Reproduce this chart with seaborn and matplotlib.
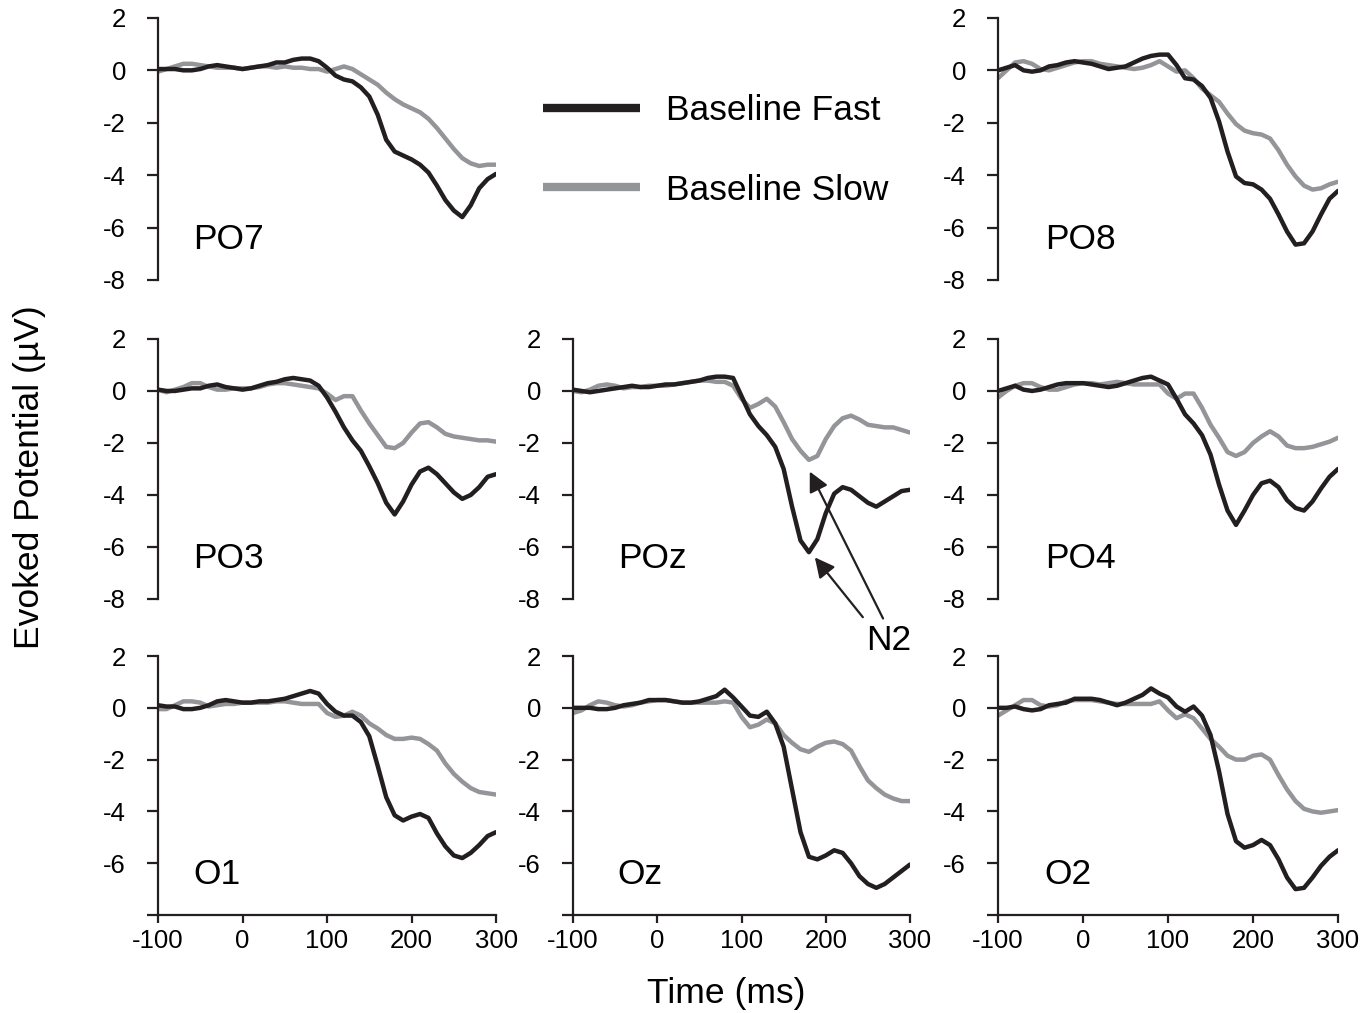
import numpy as np
import pandas as pd
import matplotlib
matplotlib.use("Agg")
import matplotlib.pyplot as plt
from matplotlib.lines import Line2D
import seaborn as sns

# Estilo general
sns.set_style("ticks")
plt.rcParams['font.family'] = ['Liberation Sans', 'DejaVu Sans']
plt.rcParams['axes.unicode_minus'] = False
plt.rcParams['text.color'] = 'black'
plt.rcParams['xtick.labelcolor'] = 'black'
plt.rcParams['ytick.labelcolor'] = 'black'

# Eje temporal (ms), una muestra cada 10 ms
time_ms = list(range(-100, 301, 10))

# Potenciales evocados (µV), por electrodo
po7_fast = [0.05, 0.05, 0.05, 0.0, 0.0, 0.05, 0.15, 0.2, 0.15, 0.1,
            0.05, 0.1, 0.15, 0.2, 0.3, 0.3, 0.4, 0.45, 0.45, 0.35,
            0.1, -0.2, -0.35, -0.42, -0.65, -1.0, -1.7, -2.65, -3.1, -3.25,
            -3.4, -3.6, -3.9, -4.4, -4.95, -5.35, -5.6, -5.15, -4.5, -4.15,
            -3.95]
po7_slow = [-0.05, 0.05, 0.15, 0.25, 0.25, 0.2, 0.15, 0.1, 0.1, 0.1,
            0.05, 0.1, 0.15, 0.15, 0.1, 0.15, 0.1, 0.1, 0.05, 0.05,
            -0.05, 0.05, 0.15, 0.05, -0.15, -0.35, -0.55, -0.85, -1.1, -1.3,
            -1.45, -1.6, -1.85, -2.2, -2.6, -3.0, -3.35, -3.55, -3.65, -3.6,
            -3.6]

po8_fast = [0.0, 0.1, 0.2, 0.0, -0.05, 0.0, 0.15, 0.2, 0.3, 0.35,
            0.3, 0.25, 0.15, 0.05, 0.1, 0.15, 0.3, 0.45, 0.55, 0.6,
            0.6, 0.2, -0.3, -0.35, -0.6, -1.05, -1.95, -3.1, -4.05, -4.3,
            -4.35, -4.55, -4.9, -5.5, -6.15, -6.65, -6.6, -6.15, -5.5, -4.9,
            -4.6]
po8_slow = [-0.3, 0.0, 0.3, 0.35, 0.25, 0.05, 0.0, 0.1, 0.2, 0.3,
            0.35, 0.35, 0.25, 0.2, 0.15, 0.1, 0.05, 0.1, 0.2, 0.35,
            0.15, -0.05, 0.0, -0.3, -0.7, -0.95, -1.2, -1.65, -2.05, -2.3,
            -2.4, -2.45, -2.6, -3.05, -3.6, -4.05, -4.4, -4.55, -4.5, -4.35,
            -4.25]

po3_fast = [0.05, 0.0, 0.0, 0.05, 0.1, 0.1, 0.2, 0.25, 0.15, 0.1,
            0.05, 0.1, 0.2, 0.3, 0.35, 0.45, 0.5, 0.45, 0.4, 0.2,
            -0.25, -0.8, -1.4, -1.9, -2.3, -2.9, -3.55, -4.3, -4.75, -4.25,
            -3.6, -3.1, -2.95, -3.2, -3.55, -3.9, -4.15, -4.0, -3.7, -3.3,
            -3.2]
po3_slow = [0.05, -0.05, 0.05, 0.15, 0.3, 0.3, 0.15, 0.05, 0.05, 0.1,
            0.1, 0.1, 0.15, 0.25, 0.3, 0.3, 0.25, 0.2, 0.15, 0.1,
            -0.1, -0.35, -0.2, -0.2, -0.75, -1.25, -1.7, -2.15, -2.2, -2.0,
            -1.6, -1.25, -1.2, -1.4, -1.65, -1.75, -1.8, -1.85, -1.9, -1.9,
            -1.95]

poz_fast = [0.05, 0.0, -0.05, 0.0, 0.05, 0.1, 0.15, 0.2, 0.15, 0.15,
            0.2, 0.25, 0.25, 0.3, 0.35, 0.4, 0.5, 0.55, 0.55, 0.5,
            -0.2, -0.9, -1.35, -1.7, -2.15, -3.0, -4.45, -5.75, -6.2, -5.7,
            -4.7, -3.95, -3.7, -3.8, -4.05, -4.3, -4.45, -4.25, -4.05, -3.85,
            -3.8]
poz_slow = [0.0, -0.05, 0.05, 0.2, 0.25, 0.2, 0.1, 0.15, 0.15, 0.2,
            0.2, 0.2, 0.25, 0.3, 0.35, 0.4, 0.4, 0.35, 0.35, 0.2,
            -0.3, -0.65, -0.5, -0.3, -0.6, -1.2, -1.85, -2.3, -2.65, -2.5,
            -1.85, -1.35, -1.05, -0.95, -1.1, -1.3, -1.35, -1.4, -1.4, -1.5,
            -1.6]

po4_fast = [0.0, 0.1, 0.2, 0.05, 0.0, 0.05, 0.15, 0.25, 0.3, 0.3,
            0.3, 0.25, 0.2, 0.15, 0.2, 0.3, 0.4, 0.5, 0.55, 0.4,
            0.25, -0.3, -0.9, -1.25, -1.7, -2.45, -3.6, -4.6, -5.15, -4.6,
            -4.0, -3.55, -3.45, -3.7, -4.2, -4.5, -4.6, -4.25, -3.75, -3.3,
            -3.0]
po4_slow = [-0.25, 0.0, 0.2, 0.3, 0.3, 0.15, 0.05, 0.05, 0.15, 0.25,
            0.3, 0.3, 0.25, 0.3, 0.35, 0.3, 0.25, 0.25, 0.25, 0.25,
            -0.1, -0.3, -0.1, -0.1, -0.65, -1.3, -1.8, -2.35, -2.5, -2.35,
            -2.0, -1.75, -1.55, -1.75, -2.1, -2.2, -2.2, -2.15, -2.05, -1.95,
            -1.8]

o1_fast = [0.1, 0.05, 0.05, -0.05, -0.05, 0.0, 0.1, 0.25, 0.3, 0.25,
           0.2, 0.2, 0.25, 0.25, 0.3, 0.35, 0.45, 0.55, 0.65, 0.55,
           0.15, -0.15, -0.3, -0.3, -0.55, -1.1, -2.25, -3.45, -4.15, -4.35,
           -4.2, -4.1, -4.25, -4.85, -5.35, -5.7, -5.8, -5.6, -5.3, -4.95,
           -4.8]
o1_slow = [-0.05, -0.05, 0.1, 0.25, 0.25, 0.2, 0.05, 0.1, 0.15, 0.15,
           0.2, 0.2, 0.2, 0.2, 0.25, 0.25, 0.2, 0.15, 0.15, 0.15,
           -0.2, -0.35, -0.3, -0.15, -0.3, -0.6, -0.8, -1.05, -1.2, -1.2,
           -1.15, -1.2, -1.4, -1.65, -2.15, -2.55, -2.85, -3.1, -3.25, -3.3,
           -3.35]

oz_fast = [0.0, 0.0, 0.0, -0.05, -0.05, 0.0, 0.1, 0.15, 0.2, 0.3,
           0.3, 0.3, 0.25, 0.2, 0.2, 0.25, 0.35, 0.45, 0.7, 0.4,
           0.05, -0.3, -0.35, -0.15, -0.6, -1.5, -3.15, -4.8, -5.75, -5.85,
           -5.7, -5.5, -5.6, -6.0, -6.5, -6.8, -6.95, -6.8, -6.55, -6.3,
           -6.05]
oz_slow = [-0.2, -0.1, 0.1, 0.25, 0.2, 0.1, 0.05, 0.1, 0.2, 0.25,
           0.3, 0.3, 0.25, 0.2, 0.2, 0.2, 0.2, 0.2, 0.25, 0.2,
           -0.35, -0.75, -0.65, -0.45, -0.6, -1.05, -1.35, -1.6, -1.7, -1.5,
           -1.35, -1.3, -1.4, -1.65, -2.25, -2.8, -3.1, -3.35, -3.5, -3.6,
           -3.6]

o2_fast = [0.0, 0.0, 0.05, -0.05, -0.1, -0.05, 0.1, 0.15, 0.2, 0.35,
           0.35, 0.35, 0.3, 0.2, 0.1, 0.2, 0.35, 0.5, 0.75, 0.55,
           0.4, 0.05, -0.15, 0.05, -0.3, -1.05, -2.45, -4.1, -5.15, -5.4,
           -5.3, -5.1, -5.3, -5.85, -6.55, -7.0, -6.95, -6.55, -6.1, -5.75,
           -5.5]
o2_slow = [-0.3, -0.1, 0.1, 0.3, 0.3, 0.1, 0.05, 0.1, 0.25, 0.3,
           0.3, 0.3, 0.25, 0.2, 0.15, 0.15, 0.15, 0.15, 0.15, 0.25,
           -0.1, -0.4, -0.25, -0.4, -0.8, -1.2, -1.5, -1.85, -2.0, -2.0,
           -1.85, -1.8, -2.0, -2.6, -3.15, -3.6, -3.9, -4.0, -4.05, -4.0,
           -3.95]

conditions = ['Baseline Fast', 'Baseline Slow']
colors = {'Baseline Fast': '#231f20', 'Baseline Slow': '#939598'}

# (electrodo, fila, columna, fast, slow)
panels = [
    ('PO7', 0, 0, po7_fast, po7_slow),
    ('PO8', 0, 2, po8_fast, po8_slow),
    ('PO3', 1, 0, po3_fast, po3_slow),
    ('POz', 1, 1, poz_fast, poz_slow),
    ('PO4', 1, 2, po4_fast, po4_slow),
    ('O1', 2, 0, o1_fast, o1_slow),
    ('Oz', 2, 1, oz_fast, oz_slow),
    ('O2', 2, 2, o2_fast, o2_slow),
]

# Posición de cada eje en la figura (fracciones)
col_left = [0.1156, 0.4192, 0.7301]
col_width = [0.2473, 0.2465, 0.2487]
row_bottom = [0.7236, 0.4087, 0.0967]
row_height = [0.2587, 0.2567, 0.2557]
label_x = [-58, -47, -45]

fig = plt.figure(figsize=(13.67, 10.13), dpi=100)

axes = {}
for name, r, c, fast, slow in panels:
    ax = fig.add_axes([col_left[c], row_bottom[r], col_width[c], row_height[r]])
    df = pd.DataFrame({
        'time': time_ms * 2,
        'value': fast + slow,
        'condition': [conditions[0]] * len(fast) + [conditions[1]] * len(slow),
    })
    sns.lineplot(data=df, x='time', y='value', hue='condition',
                 hue_order=conditions[::-1], palette=colors, linewidth=3.2,
                 legend=False, ax=ax)
    ax.set_xlim(-100, 300)
    ax.set_ylim(-8, 2)
    ax.set_xlabel('')
    ax.set_ylabel('')
    ax.spines['top'].set_visible(False)
    ax.spines['right'].set_visible(False)
    ax.spines['left'].set_linewidth(1.6)
    ax.spines['left'].set_color('#231f20')
    ax.set_yticks([2, 0, -2, -4, -6, -8])
    if r < 2:
        ax.set_yticklabels(['2', '0', '-2', '-4', '-6', '-8'])
        ax.spines['bottom'].set_visible(False)
        ax.set_xticks([])
    else:
        ax.set_yticklabels(['2', '0', '-2', '-4', '-6', ''])
        ax.spines['bottom'].set_linewidth(1.6)
        ax.spines['bottom'].set_color('#231f20')
        ax.set_xticks([-100, 0, 100, 200, 300])
        ax.set_xticklabels(['-100', '0', '100', '200', '300'])
        ax.tick_params(axis='x', direction='out', length=6, width=1.6,
                       labelsize=18.5, pad=4, color='#231f20')
    ax.tick_params(axis='y', direction='out', length=8, width=1.6,
                   labelsize=18.5, pad=15, color='#231f20')
    ax.patch.set_alpha(0)
    ax.text(label_x[c], -6.8, name, fontsize=25.5, ha='left', va='baseline')
    axes[name] = ax

# Flechas N2 en POz
ax = axes['POz']
arrow = dict(arrowstyle='-|>', lw=1.6, color='#231f20', mutation_scale=30,
             shrinkA=0, shrinkB=0)
ax.annotate('', xy=(187, -6.4), xytext=(244, -8.7), arrowprops=arrow,
            annotation_clip=False)
ax.annotate('', xy=(181, -3.1), xytext=(268, -8.75), arrowprops=arrow,
            annotation_clip=False)
ax.text(275, -9.6, 'N2', fontsize=25.5, ha='center', va='center', clip_on=False)

# Leyenda
handles = [Line2D([], [], color=colors[c], lw=6, solid_capstyle='butt') for c in conditions]
fig.legend(handles, conditions, loc='upper left', bbox_to_anchor=(543 / 1367, 1 - 94 / 1013),
           frameon=False, fontsize=25.5, handlelength=2.74, handletextpad=0.73,
           labelspacing=1.32, borderpad=0, borderaxespad=0)

fig.text(726 / 1367, 1 - 993 / 1013, 'Time (ms)', fontsize=25.5, ha='center', va='center')
fig.text(30 / 1367, 1 - 477 / 1013, 'Evoked Potential (µV)', fontsize=25.5,
         ha='center', va='center', rotation=90)

fig.savefig('out.png', dpi=100)
